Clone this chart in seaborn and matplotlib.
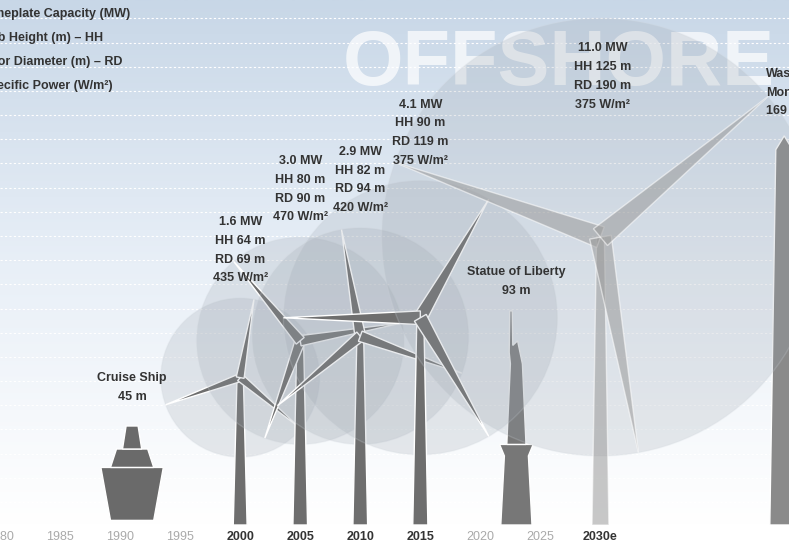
import numpy as np
import matplotlib
matplotlib.use("Agg")
import matplotlib.pyplot as plt
from matplotlib.patches import Ellipse, Polygon
from matplotlib.colors import LinearSegmentedColormap
import seaborn as sns

years = [2000, 2005, 2010, 2015, 2030]
capacity = ["1.6 MW", "3.0 MW", "2.9 MW", "4.1 MW", "11.0 MW"]
hub_height = [64, 80, 82, 90, 125]
rotor_diam = [69, 90, 94, 119, 190]
spec_power = [435, 470, 420, 375, 375]
tick_years = [1980, 1985, 1990, 1995, 2000, 2005, 2010, 2015, 2020, 2025, 2030]
tick_labels = ["1980", "1985", "1990", "1995", "2000", "2005", "2010", "2015", "2020", "2025", "2030e"]
bold_ticks = ["2000", "2005", "2010", "2015", "2030e"]
landmarks = ["Cruise Ship", "Statue of Liberty", "Washington Monument"]
landmark_year = [1991, 2023, 2045.3]
landmark_height = [45, 93, 169]

sns.set_theme(style="white")
plt.rcParams['font.family'] = ['Liberation Sans', 'DejaVu Sans']
fig = plt.figure(figsize=(7.89, 5.52), dpi=100)
ax = fig.add_axes([0, 27/552, 1, 525/552])
X0, X1, Y1 = 1980, 2045.7, 228
ax.set_xlim(X0, X1); ax.set_ylim(0, Y1)
m2yr = 2.3 / 12.0

grad = np.linspace(0, 1, 256).reshape(-1, 1)
cm = LinearSegmentedColormap.from_list("bg", ["#ffffff", "#e8eff7", "#c8d7e7"])
ax.imshow(grad, extent=[X0, X1, 0, Y1], aspect="auto", cmap=cm, origin="lower", zorder=0)
for yy in np.arange(10, Y1, 10.5):
    ax.axhline(yy, color="white", lw=0.8, ls=(0, (2, 2)), zorder=1)

ax.text(2026.5, 200, "OFFSHORE", fontsize=56, fontweight="bold", color="white", alpha=0.7,
        ha="center", va="center", zorder=1)

angles = [(200, 320, 80), (250, 10, 130), (100, 220, 340), (60, 180, 300), (160, 280, 40)]
lab_style = dict(fontsize=9, fontweight="bold", color="#333333", linespacing=1.75, zorder=10)
for i, yr in enumerate(years):
    hh, rd = hub_height[i], rotor_diam[i]
    r = rd / 2
    col = "#6e6e6e" if i < 4 else "#9a9a9a"
    alpha = 1 if i < 4 else 0.55
    ax.add_patch(Ellipse((yr, hh), rd * m2yr, rd, facecolor="#9aa3ad", alpha=0.22,
                         edgecolor="#cfd5db", lw=1, zorder=2 + i))
    wb, wt = 0.45 + 0.002 * hh, 0.2 + 0.001 * hh
    ax.add_patch(Polygon([(yr - wb, 0), (yr + wb, 0), (yr + wt, hh), (yr - wt, hh)],
                         closed=True, facecolor=col, alpha=alpha, zorder=2 + i))
    for a in angles[i]:
        t = np.deg2rad(a); tp = t + np.pi / 2
        tip = (yr + r * np.cos(t) * m2yr, hh + r * np.sin(t))
        w = r * 0.05
        base1 = (yr + w * np.cos(tp) * m2yr, hh + w * np.sin(tp))
        base2 = (yr - w * np.cos(tp) * m2yr, hh - w * np.sin(tp))
        ax.add_patch(Polygon([base1, tip, base2], closed=True, facecolor=col, alpha=alpha, zorder=2 + i))
    txt = f"{capacity[i]}\nHH {hh} m\nRD {rd} m\n{spec_power[i]} W/m²"
    if i < 4:
        ax.text(yr, hh + r + 6, txt, ha="center", va="bottom", **lab_style)
    else:
        ax.text(yr + 0.2, 180, txt, ha="center", va="bottom", **lab_style)

# cruise ship
sx, sh = landmark_year[0], landmark_height[0]
ax.add_patch(Polygon([(sx - 2.6, 25), (sx + 2.6, 25), (sx + 1.8, 2), (sx - 1.8, 2)],
                     facecolor="#6a6a6a", zorder=3))
ax.add_patch(Polygon([(sx - 1.8, 25), (sx + 1.8, 25), (sx + 1.3, 33), (sx - 1.3, 33)],
                     facecolor="#6a6a6a", zorder=3))
ax.add_patch(Polygon([(sx - 0.8, 33), (sx + 0.8, 33), (sx + 0.5, 43), (sx - 0.5, 43)],
                     facecolor="#6a6a6a", zorder=3))
ax.text(sx, sh + 8, f"{landmarks[0]}\n{sh} m", ha="center", va="bottom", **lab_style)
# statue of liberty
lx, lh = landmark_year[1], landmark_height[1]
ax.add_patch(Polygon([(lx - 1.3, 0), (lx + 1.3, 0), (lx + 1.0, 30), (lx + 1.4, 35), (lx - 1.4, 35), (lx - 1.0, 30)],
                     facecolor="#777777", zorder=3))
ax.add_patch(Polygon([(lx - 0.8, 35), (lx + 0.8, 35), (lx + 0.5, 70), (lx + 0.1, 80), (lx - 0.3, 78),
                      (lx - 0.35, 93), (lx - 0.55, 93), (lx - 0.6, 75), (lx - 0.5, 70)],
                     facecolor="#777777", zorder=3))
ax.text(lx, lh + 6, f"{landmarks[1]}\n{lh} m", ha="center", va="bottom", **lab_style)
# washington monument
wx, wh = landmark_year[2], landmark_height[2]
ax.add_patch(Polygon([(wx - 1.2, 0), (wx + 1.2, 0), (wx + 0.7, wh - 6), (wx, wh), (wx - 0.7, wh - 6)],
                     facecolor="#8a8a8a", zorder=3))
ax.text(2043.8, wh + 8, "Washington\nMonument\n169 m", ha="left", va="bottom", **lab_style)

leg = ["Nameplate Capacity (MW)", "Hub Height (m) – HH", "Rotor Diameter (m) – RD", "Specific Power (W/m²)"]
offs = [1.9, 1.55, 1.9, 1.55]
for k, s in enumerate(leg):
    ax.text(X0 - offs[k], 222 - k * 10.5, s, fontsize=9, fontweight="bold", color="#333333", va="center")

ax.set_xticks(tick_years)
ax.set_xticklabels(tick_labels)
for lab in ax.get_xticklabels():
    if lab.get_text() in bold_ticks:
        lab.set_fontweight("bold"); lab.set_color("#333333")
    else:
        lab.set_color("#aaaaaa")
    lab.set_fontsize(9)
ax.set_yticks([])
ax.tick_params(axis="x", length=0, pad=4)
for s in ax.spines.values():
    s.set_visible(False)
fig.savefig("out.png", dpi=100)
